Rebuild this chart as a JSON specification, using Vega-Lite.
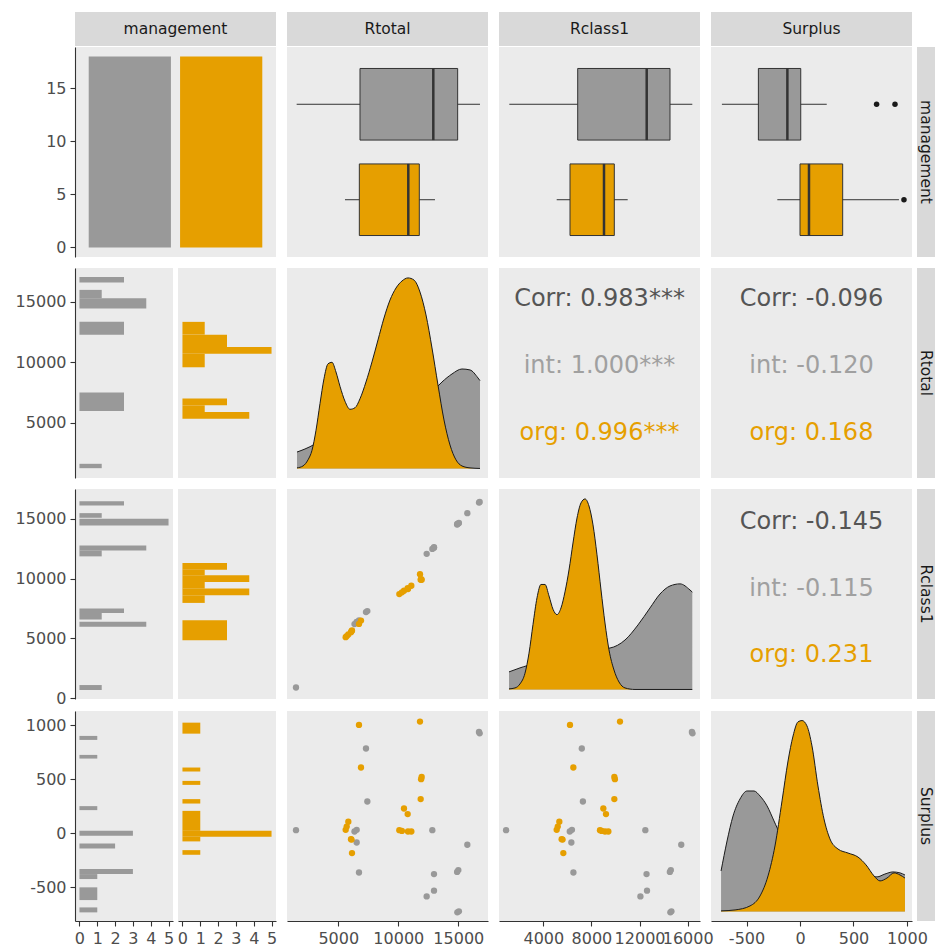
{
  "$schema": "https://vega.github.io/schema/vega-lite/v6.json",
  "padding": {"left": 15, "top": 12, "right": 0, "bottom": 0},
  "background": "#FFFFFF",
  "config": {
    "view": {"stroke": null},
    "axis": {"labelFont": "DejaVu Sans", "labelFontSize": 16, "labelColor": "#4D4D4D", "domainColor": "#333333", "domainWidth": 1.1, "tickColor": "#333333", "tickWidth": 1.1, "tickSize": 5, "labelPadding": 4, "grid": false, "labelOverlap": false, "labelFlush": false},
    "text": {"font": "DejaVu Sans"}
  },
  "datasets": {
    "mgmt": [{"management": "int", "n": 18}, {"management": "org", "n": 18}],
    "box": [
      {"variable": "Rtotal", "management": "int", "lower": 1530, "q1": 6808, "median": 12917, "q3": 14947, "upper": 16808},
      {"variable": "Rtotal", "management": "org", "lower": 5558, "q1": 6753, "median": 10833, "q3": 11750, "upper": 13058},
      {"variable": "Rclass1", "management": "int", "lower": 1172, "q1": 6858, "median": 12594, "q3": 14531, "upper": 16384},
      {"variable": "Rclass1", "management": "org", "lower": 5112, "q1": 6218, "median": 9044, "q3": 9900, "upper": 11014},
      {"variable": "Surplus", "management": "int", "lower": -730, "q1": -389, "median": -118, "q3": 7, "upper": 250},
      {"variable": "Surplus", "management": "org", "lower": -212, "q1": 0, "median": 84, "q3": 399, "upper": 925}
    ],
    "outl": [
      {"variable": "Surplus", "management": "int", "value": 716},
      {"variable": "Surplus", "management": "int", "value": 888},
      {"variable": "Surplus", "management": "org", "value": 972}
    ],
    "corr": [
      {"pair": "Rtotal-Rclass1", "line": "Corr", "label": "Corr: 0.983***"},
      {"pair": "Rtotal-Rclass1", "line": "int", "label": "int: 1.000***"},
      {"pair": "Rtotal-Rclass1", "line": "org", "label": "org: 0.996***"},
      {"pair": "Rtotal-Surplus", "line": "Corr", "label": "Corr: -0.096"},
      {"pair": "Rtotal-Surplus", "line": "int", "label": "int: -0.120"},
      {"pair": "Rtotal-Surplus", "line": "org", "label": "org: 0.168"},
      {"pair": "Rclass1-Surplus", "line": "Corr", "label": "Corr: -0.145"},
      {"pair": "Rclass1-Surplus", "line": "int", "label": "int: -0.115"},
      {"pair": "Rclass1-Surplus", "line": "org", "label": "org: 0.231"}
    ],
    "hist": [
      {"variable": "Rtotal", "management": "int", "lo": 16581, "hi": 17025, "count": 2},
      {"variable": "Rtotal", "management": "int", "lo": 15275, "hi": 15969, "count": 1},
      {"variable": "Rtotal", "management": "int", "lo": 14442, "hi": 15275, "count": 3},
      {"variable": "Rtotal", "management": "int", "lo": 12275, "hi": 13330, "count": 2},
      {"variable": "Rtotal", "management": "int", "lo": 5969, "hi": 7497, "count": 2},
      {"variable": "Rtotal", "management": "int", "lo": 1253, "hi": 1614, "count": 1},
      {"variable": "Rtotal", "management": "org", "lo": 12275, "hi": 13330, "count": 1},
      {"variable": "Rtotal", "management": "org", "lo": 11247, "hi": 12275, "count": 2},
      {"variable": "Rtotal", "management": "org", "lo": 10692, "hi": 11247, "count": 4},
      {"variable": "Rtotal", "management": "org", "lo": 9581, "hi": 10692, "count": 1},
      {"variable": "Rtotal", "management": "org", "lo": 6442, "hi": 6997, "count": 2},
      {"variable": "Rtotal", "management": "org", "lo": 5886, "hi": 6442, "count": 1},
      {"variable": "Rtotal", "management": "org", "lo": 5331, "hi": 5886, "count": 3},
      {"variable": "Rclass1", "management": "int", "lo": 16108, "hi": 16469, "count": 2},
      {"variable": "Rclass1", "management": "int", "lo": 15081, "hi": 15469, "count": 1},
      {"variable": "Rclass1", "management": "int", "lo": 14442, "hi": 14997, "count": 4},
      {"variable": "Rclass1", "management": "int", "lo": 12358, "hi": 12775, "count": 3},
      {"variable": "Rclass1", "management": "int", "lo": 11858, "hi": 12358, "count": 1},
      {"variable": "Rclass1", "management": "int", "lo": 7136, "hi": 7497, "count": 2},
      {"variable": "Rclass1", "management": "int", "lo": 6581, "hi": 7136, "count": 1},
      {"variable": "Rclass1", "management": "int", "lo": 5969, "hi": 6386, "count": 3},
      {"variable": "Rclass1", "management": "int", "lo": 692, "hi": 1108, "count": 1},
      {"variable": "Rclass1", "management": "org", "lo": 10747, "hi": 11303, "count": 2},
      {"variable": "Rclass1", "management": "org", "lo": 10275, "hi": 10747, "count": 1},
      {"variable": "Rclass1", "management": "org", "lo": 9719, "hi": 10275, "count": 3},
      {"variable": "Rclass1", "management": "org", "lo": 9164, "hi": 9719, "count": 1},
      {"variable": "Rclass1", "management": "org", "lo": 8608, "hi": 9164, "count": 3},
      {"variable": "Rclass1", "management": "org", "lo": 7969, "hi": 8608, "count": 1},
      {"variable": "Rclass1", "management": "org", "lo": 4858, "hi": 6525, "count": 2},
      {"variable": "Surplus", "management": "int", "lo": 864, "hi": 901, "count": 1},
      {"variable": "Surplus", "management": "int", "lo": 691, "hi": 725, "count": 1},
      {"variable": "Surplus", "management": "int", "lo": 213, "hi": 250, "count": 1},
      {"variable": "Surplus", "management": "int", "lo": -25, "hi": 21, "count": 3},
      {"variable": "Surplus", "management": "int", "lo": -142, "hi": -96, "count": 2},
      {"variable": "Surplus", "management": "int", "lo": -380, "hi": -334, "count": 3},
      {"variable": "Surplus", "management": "int", "lo": -426, "hi": -380, "count": 1},
      {"variable": "Surplus", "management": "int", "lo": -621, "hi": -503, "count": 1},
      {"variable": "Surplus", "management": "int", "lo": -735, "hi": -689, "count": 1},
      {"variable": "Surplus", "management": "org", "lo": 922, "hi": 1024, "count": 1},
      {"variable": "Surplus", "management": "org", "lo": 571, "hi": 608, "count": 1},
      {"variable": "Surplus", "management": "org", "lo": 447, "hi": 484, "count": 1},
      {"variable": "Surplus", "management": "org", "lo": 274, "hi": 315, "count": 1},
      {"variable": "Surplus", "management": "org", "lo": 21, "hi": 206, "count": 1},
      {"variable": "Surplus", "management": "org", "lo": -34, "hi": 21, "count": 5},
      {"variable": "Surplus", "management": "org", "lo": -77, "hi": -34, "count": 1},
      {"variable": "Surplus", "management": "org", "lo": -201, "hi": -158, "count": 1}
    ],
    "dens": [
      {"variable": "Rtotal", "management": "int", "x": 1558, "density": 0.086},
      {"variable": "Rtotal", "management": "int", "x": 2225, "density": 0.102},
      {"variable": "Rtotal", "management": "int", "x": 3058, "density": 0.128},
      {"variable": "Rtotal", "management": "int", "x": 3892, "density": 0.165},
      {"variable": "Rtotal", "management": "int", "x": 4725, "density": 0.2},
      {"variable": "Rtotal", "management": "int", "x": 5558, "density": 0.228},
      {"variable": "Rtotal", "management": "int", "x": 6808, "density": 0.264},
      {"variable": "Rtotal", "management": "int", "x": 8058, "density": 0.264},
      {"variable": "Rtotal", "management": "int", "x": 9308, "density": 0.264},
      {"variable": "Rtotal", "management": "int", "x": 10558, "density": 0.296},
      {"variable": "Rtotal", "management": "int", "x": 11808, "density": 0.348},
      {"variable": "Rtotal", "management": "int", "x": 12808, "density": 0.4},
      {"variable": "Rtotal", "management": "int", "x": 13642, "density": 0.453},
      {"variable": "Rtotal", "management": "int", "x": 14475, "density": 0.495},
      {"variable": "Rtotal", "management": "int", "x": 15308, "density": 0.521},
      {"variable": "Rtotal", "management": "int", "x": 15975, "density": 0.516},
      {"variable": "Rtotal", "management": "int", "x": 16642, "density": 0.474},
      {"variable": "Rtotal", "management": "int", "x": 16808, "density": 0.46},
      {"variable": "Rtotal", "management": "org", "x": 1558, "density": 0.003},
      {"variable": "Rtotal", "management": "org", "x": 2058, "density": 0.013},
      {"variable": "Rtotal", "management": "org", "x": 2475, "density": 0.045},
      {"variable": "Rtotal", "management": "org", "x": 2808, "density": 0.095},
      {"variable": "Rtotal", "management": "org", "x": 3142, "density": 0.2},
      {"variable": "Rtotal", "management": "org", "x": 3475, "density": 0.34},
      {"variable": "Rtotal", "management": "org", "x": 3808, "density": 0.47},
      {"variable": "Rtotal", "management": "org", "x": 4142, "density": 0.548},
      {"variable": "Rtotal", "management": "org", "x": 4475, "density": 0.556},
      {"variable": "Rtotal", "management": "org", "x": 4808, "density": 0.505},
      {"variable": "Rtotal", "management": "org", "x": 5142, "density": 0.43},
      {"variable": "Rtotal", "management": "org", "x": 5558, "density": 0.352},
      {"variable": "Rtotal", "management": "org", "x": 5975, "density": 0.31},
      {"variable": "Rtotal", "management": "org", "x": 6392, "density": 0.318},
      {"variable": "Rtotal", "management": "org", "x": 6808, "density": 0.365},
      {"variable": "Rtotal", "management": "org", "x": 7308, "density": 0.453},
      {"variable": "Rtotal", "management": "org", "x": 7808, "density": 0.558},
      {"variable": "Rtotal", "management": "org", "x": 8308, "density": 0.673},
      {"variable": "Rtotal", "management": "org", "x": 8808, "density": 0.788},
      {"variable": "Rtotal", "management": "org", "x": 9308, "density": 0.882},
      {"variable": "Rtotal", "management": "org", "x": 9808, "density": 0.945},
      {"variable": "Rtotal", "management": "org", "x": 10308, "density": 0.982},
      {"variable": "Rtotal", "management": "org", "x": 10808, "density": 0.998},
      {"variable": "Rtotal", "management": "org", "x": 11308, "density": 0.987},
      {"variable": "Rtotal", "management": "org", "x": 11808, "density": 0.924},
      {"variable": "Rtotal", "management": "org", "x": 12308, "density": 0.804},
      {"variable": "Rtotal", "management": "org", "x": 12808, "density": 0.631},
      {"variable": "Rtotal", "management": "org", "x": 13308, "density": 0.437},
      {"variable": "Rtotal", "management": "org", "x": 13808, "density": 0.254},
      {"variable": "Rtotal", "management": "org", "x": 14308, "density": 0.123},
      {"variable": "Rtotal", "management": "org", "x": 14808, "density": 0.045},
      {"variable": "Rtotal", "management": "org", "x": 15308, "density": 0.013},
      {"variable": "Rtotal", "management": "org", "x": 15975, "density": 0.003},
      {"variable": "Rtotal", "management": "org", "x": 16808, "density": 0.0},
      {"variable": "Rclass1", "management": "int", "x": 1147, "density": 0.092},
      {"variable": "Rclass1", "management": "int", "x": 2062, "density": 0.113},
      {"variable": "Rclass1", "management": "int", "x": 3308, "density": 0.139},
      {"variable": "Rclass1", "management": "int", "x": 4555, "density": 0.181},
      {"variable": "Rclass1", "management": "int", "x": 6218, "density": 0.207},
      {"variable": "Rclass1", "management": "int", "x": 7880, "density": 0.207},
      {"variable": "Rclass1", "management": "int", "x": 9543, "density": 0.217},
      {"variable": "Rclass1", "management": "int", "x": 10790, "density": 0.259},
      {"variable": "Rclass1", "management": "int", "x": 11870, "density": 0.338},
      {"variable": "Rclass1", "management": "int", "x": 12868, "density": 0.427},
      {"variable": "Rclass1", "management": "int", "x": 13700, "density": 0.5},
      {"variable": "Rclass1", "management": "int", "x": 14531, "density": 0.542},
      {"variable": "Rclass1", "management": "int", "x": 15362, "density": 0.553},
      {"variable": "Rclass1", "management": "int", "x": 16193, "density": 0.521},
      {"variable": "Rclass1", "management": "int", "x": 16384, "density": 0.51},
      {"variable": "Rclass1", "management": "org", "x": 1147, "density": 0.003},
      {"variable": "Rclass1", "management": "org", "x": 1646, "density": 0.008},
      {"variable": "Rclass1", "management": "org", "x": 2062, "density": 0.029},
      {"variable": "Rclass1", "management": "org", "x": 2477, "density": 0.085},
      {"variable": "Rclass1", "management": "org", "x": 2810, "density": 0.19},
      {"variable": "Rclass1", "management": "org", "x": 3142, "density": 0.34},
      {"variable": "Rclass1", "management": "org", "x": 3475, "density": 0.48},
      {"variable": "Rclass1", "management": "org", "x": 3807, "density": 0.55},
      {"variable": "Rclass1", "management": "org", "x": 4140, "density": 0.55},
      {"variable": "Rclass1", "management": "org", "x": 4472, "density": 0.49},
      {"variable": "Rclass1", "management": "org", "x": 4805, "density": 0.42},
      {"variable": "Rclass1", "management": "org", "x": 5137, "density": 0.392},
      {"variable": "Rclass1", "management": "org", "x": 5470, "density": 0.427},
      {"variable": "Rclass1", "management": "org", "x": 5802, "density": 0.511},
      {"variable": "Rclass1", "management": "org", "x": 6135, "density": 0.626},
      {"variable": "Rclass1", "management": "org", "x": 6467, "density": 0.767},
      {"variable": "Rclass1", "management": "org", "x": 6800, "density": 0.898},
      {"variable": "Rclass1", "management": "org", "x": 7132, "density": 0.977},
      {"variable": "Rclass1", "management": "org", "x": 7465, "density": 0.998},
      {"variable": "Rclass1", "management": "org", "x": 7797, "density": 0.961},
      {"variable": "Rclass1", "management": "org", "x": 8130, "density": 0.862},
      {"variable": "Rclass1", "management": "org", "x": 8462, "density": 0.705},
      {"variable": "Rclass1", "management": "org", "x": 8795, "density": 0.521},
      {"variable": "Rclass1", "management": "org", "x": 9127, "density": 0.348},
      {"variable": "Rclass1", "management": "org", "x": 9460, "density": 0.207},
      {"variable": "Rclass1", "management": "org", "x": 9875, "density": 0.102},
      {"variable": "Rclass1", "management": "org", "x": 10291, "density": 0.039},
      {"variable": "Rclass1", "management": "org", "x": 10790, "density": 0.008},
      {"variable": "Rclass1", "management": "org", "x": 11621, "density": 0.0},
      {"variable": "Rclass1", "management": "org", "x": 16384, "density": 0.0},
      {"variable": "Surplus", "management": "int", "x": -738, "density": 0.212},
      {"variable": "Surplus", "management": "int", "x": -682, "density": 0.369},
      {"variable": "Surplus", "management": "int", "x": -626, "density": 0.5},
      {"variable": "Surplus", "management": "int", "x": -561, "density": 0.589},
      {"variable": "Surplus", "management": "int", "x": -495, "density": 0.631},
      {"variable": "Surplus", "management": "int", "x": -430, "density": 0.631},
      {"variable": "Surplus", "management": "int", "x": -374, "density": 0.605},
      {"variable": "Surplus", "management": "int", "x": -308, "density": 0.553},
      {"variable": "Surplus", "management": "int", "x": -243, "density": 0.474},
      {"variable": "Surplus", "management": "int", "x": -178, "density": 0.395},
      {"variable": "Surplus", "management": "int", "x": -93, "density": 0.317},
      {"variable": "Surplus", "management": "int", "x": 47, "density": 0.254},
      {"variable": "Surplus", "management": "int", "x": 234, "density": 0.22},
      {"variable": "Surplus", "management": "int", "x": 421, "density": 0.202},
      {"variable": "Surplus", "management": "int", "x": 607, "density": 0.186},
      {"variable": "Surplus", "management": "int", "x": 720, "density": 0.181},
      {"variable": "Surplus", "management": "int", "x": 794, "density": 0.196},
      {"variable": "Surplus", "management": "int", "x": 869, "density": 0.207},
      {"variable": "Surplus", "management": "int", "x": 935, "density": 0.202},
      {"variable": "Surplus", "management": "int", "x": 981, "density": 0.191},
      {"variable": "Surplus", "management": "org", "x": -738, "density": 0.003},
      {"variable": "Surplus", "management": "org", "x": -607, "density": 0.008},
      {"variable": "Surplus", "management": "org", "x": -467, "density": 0.029},
      {"variable": "Surplus", "management": "org", "x": -374, "density": 0.081},
      {"variable": "Surplus", "management": "org", "x": -299, "density": 0.186},
      {"variable": "Surplus", "management": "org", "x": -234, "density": 0.343},
      {"variable": "Surplus", "management": "org", "x": -168, "density": 0.579},
      {"variable": "Surplus", "management": "org", "x": -112, "density": 0.788},
      {"variable": "Surplus", "management": "org", "x": -65, "density": 0.919},
      {"variable": "Surplus", "management": "org", "x": -19, "density": 0.993},
      {"variable": "Surplus", "management": "org", "x": 19, "density": 1.0},
      {"variable": "Surplus", "management": "org", "x": 65, "density": 0.972},
      {"variable": "Surplus", "management": "org", "x": 112, "density": 0.867},
      {"variable": "Surplus", "management": "org", "x": 168, "density": 0.657},
      {"variable": "Surplus", "management": "org", "x": 224, "density": 0.485},
      {"variable": "Surplus", "management": "org", "x": 280, "density": 0.38},
      {"variable": "Surplus", "management": "org", "x": 355, "density": 0.327},
      {"variable": "Surplus", "management": "org", "x": 449, "density": 0.306},
      {"variable": "Surplus", "management": "org", "x": 542, "density": 0.285},
      {"variable": "Surplus", "management": "org", "x": 617, "density": 0.244},
      {"variable": "Surplus", "management": "org", "x": 692, "density": 0.186},
      {"variable": "Surplus", "management": "org", "x": 748, "density": 0.16},
      {"variable": "Surplus", "management": "org", "x": 813, "density": 0.175},
      {"variable": "Surplus", "management": "org", "x": 879, "density": 0.202},
      {"variable": "Surplus", "management": "org", "x": 935, "density": 0.191},
      {"variable": "Surplus", "management": "org", "x": 981, "density": 0.175}
    ],
    "pts": [
      {"management": "int", "Rtotal": 16725, "Rclass1": 16350, "Surplus": 938},
      {"management": "int", "Rtotal": 7308, "Rclass1": 7200, "Surplus": 784},
      {"management": "int", "Rtotal": 7419, "Rclass1": 7290, "Surplus": 293},
      {"management": "int", "Rtotal": 1475, "Rclass1": 905, "Surplus": 27},
      {"management": "int", "Rtotal": 12836, "Rclass1": 12480, "Surplus": 27},
      {"management": "int", "Rtotal": 15753, "Rclass1": 15464, "Surplus": -108},
      {"management": "int", "Rtotal": 15003, "Rclass1": 14600, "Surplus": -343},
      {"management": "int", "Rtotal": 12975, "Rclass1": 12580, "Surplus": -380},
      {"management": "int", "Rtotal": 12975, "Rclass1": 12620, "Surplus": -534},
      {"management": "int", "Rtotal": 12364, "Rclass1": 12070, "Surplus": -587},
      {"management": "int", "Rtotal": 14919, "Rclass1": 14560, "Surplus": -735},
      {"management": "int", "Rtotal": 6725, "Rclass1": 6500, "Surplus": -365},
      {"management": "int", "Rtotal": 6531, "Rclass1": 6380, "Surplus": 30},
      {"management": "int", "Rtotal": 6531, "Rclass1": 6330, "Surplus": -87},
      {"management": "int", "Rtotal": 16780, "Rclass1": 16400, "Surplus": 925},
      {"management": "int", "Rtotal": 14900, "Rclass1": 14520, "Surplus": -360},
      {"management": "int", "Rtotal": 6350, "Rclass1": 6200, "Surplus": 15},
      {"management": "int", "Rtotal": 15050, "Rclass1": 14650, "Surplus": -725},
      {"management": "org", "Rtotal": 6725, "Rclass1": 6218, "Surplus": 1003},
      {"management": "org", "Rtotal": 11808, "Rclass1": 10374, "Surplus": 1034},
      {"management": "org", "Rtotal": 6892, "Rclass1": 6495, "Surplus": 608},
      {"management": "org", "Rtotal": 11947, "Rclass1": 9903, "Surplus": 521},
      {"management": "org", "Rtotal": 11864, "Rclass1": 9903, "Surplus": 315},
      {"management": "org", "Rtotal": 10475, "Rclass1": 8988, "Surplus": 228},
      {"management": "org", "Rtotal": 10781, "Rclass1": 9210, "Surplus": 176},
      {"management": "org", "Rtotal": 10086, "Rclass1": 8710, "Surplus": 27},
      {"management": "org", "Rtotal": 10808, "Rclass1": 9127, "Surplus": 15},
      {"management": "org", "Rtotal": 11086, "Rclass1": 9405, "Surplus": 15},
      {"management": "org", "Rtotal": 5836, "Rclass1": 5331, "Surplus": 105},
      {"management": "org", "Rtotal": 5614, "Rclass1": 5110, "Surplus": 30},
      {"management": "org", "Rtotal": 6058, "Rclass1": 5525, "Surplus": -56},
      {"management": "org", "Rtotal": 6142, "Rclass1": 5663, "Surplus": -185},
      {"management": "org", "Rtotal": 11900, "Rclass1": 9950, "Surplus": 500},
      {"management": "org", "Rtotal": 10300, "Rclass1": 8850, "Surplus": 20},
      {"management": "org", "Rtotal": 5700, "Rclass1": 5200, "Surplus": 60},
      {"management": "org", "Rtotal": 6100, "Rclass1": 5600, "Surplus": -60}
    ]
  },
  "spacing": 11,
  "resolve": {"scale": {"x": "independent", "y": "independent", "color": "independent"}},
  "vconcat": [
    {
      "spacing": 1,
      "resolve": {"scale": {"x": "independent", "y": "independent", "color": "independent"}},
      "vconcat": [
        {
          "spacing": 5, "bounds": "flush",
          "resolve": {"scale": {"x": "independent", "y": "independent", "color": "independent"}},
          "hconcat": [
            {"width": 201, "height": 34, "view": {"fill": "#D9D9D9", "stroke": null}, "data": {"values": [{"label": "management"}]}, "mark": {"type": "text", "font": "DejaVu Sans", "fontSize": 15.5, "color": "#1A1A1A"}, "encoding": {"text": {"field": "label"}}},
            {"width": 1, "height": 1, "data": {"values": []}, "mark": "point", "encoding": {}},
            {"width": 201, "height": 34, "view": {"fill": "#D9D9D9", "stroke": null}, "data": {"values": [{"label": "Rtotal"}]}, "mark": {"type": "text", "font": "DejaVu Sans", "fontSize": 15.5, "color": "#1A1A1A"}, "encoding": {"text": {"field": "label"}}},
            {"width": 1, "height": 1, "data": {"values": []}, "mark": "point", "encoding": {}},
            {"width": 201, "height": 34, "view": {"fill": "#D9D9D9", "stroke": null}, "data": {"values": [{"label": "Rclass1"}]}, "mark": {"type": "text", "font": "DejaVu Sans", "fontSize": 15.5, "color": "#1A1A1A"}, "encoding": {"text": {"field": "label"}}},
            {"width": 1, "height": 1, "data": {"values": []}, "mark": "point", "encoding": {}},
            {"width": 201, "height": 34, "view": {"fill": "#D9D9D9", "stroke": null}, "data": {"values": [{"label": "Surplus"}]}, "mark": {"type": "text", "font": "DejaVu Sans", "fontSize": 15.5, "color": "#1A1A1A"}, "encoding": {"text": {"field": "label"}}}
          ]
        },
        {
          "spacing": 5, "bounds": "flush",
          "resolve": {"scale": {"x": "independent", "y": "independent", "color": "independent"}},
          "hconcat": [
            {
              "width": 201, "height": 210, "view": {"fill": "#EBEBEB", "stroke": null},
              "data": {"name": "mgmt"},
              "mark": {"type": "bar"},
              "encoding": {
                "x": {"field": "management", "type": "nominal", "scale": {"domain": ["int", "org"], "paddingInner": 0.1, "paddingOuter": 0.15}, "axis": null},
                "y": {"field": "n", "type": "quantitative", "scale": {"domain": [-0.9, 18.9], "nice": false, "zero": false}, "axis": {"title": null, "values": [0, 5, 10, 15], "labelExpr": "'' + datum.value"}},
                "y2": {"datum": 0},
                "color": {"field": "management", "type": "nominal", "scale": {"domain": ["int", "org"], "range": ["#999999", "#E69F00"]}, "legend": null}
              }
            },
            {"width": 1, "height": 1, "data": {"values": []}, "mark": "point", "encoding": {}},
            {
              "width": 201, "height": 210, "view": {"fill": "#EBEBEB", "stroke": null},
              "layer": [
                {"data": {"name": "box"}, "transform": [{"filter": "datum.variable === 'Rtotal'"}], "mark": {"type": "rule", "color": "#333333", "strokeWidth": 1},
                 "encoding": {"x": {"field": "lower", "type": "quantitative", "scale": {"domain": [725, 17475], "nice": false, "zero": false}, "axis": null}, "x2": {"field": "upper"}, "y": {"field": "management", "type": "nominal", "scale": {"domain": ["int", "org"], "paddingInner": 0.25, "paddingOuter": 0.225}, "axis": null}}},
                {"data": {"name": "box"}, "transform": [{"filter": "datum.variable === 'Rtotal'"}], "mark": {"type": "bar", "stroke": "#333333", "strokeWidth": 1},
                 "encoding": {"x": {"field": "q1", "type": "quantitative", "scale": {"domain": [725, 17475], "nice": false, "zero": false}, "axis": null}, "x2": {"field": "q3"}, "y": {"field": "management", "type": "nominal", "scale": {"domain": ["int", "org"], "paddingInner": 0.25, "paddingOuter": 0.225}, "axis": null}, "color": {"field": "management", "type": "nominal", "scale": {"domain": ["int", "org"], "range": ["#999999", "#E69F00"]}, "legend": null}}},
                {"data": {"name": "box"}, "transform": [{"filter": "datum.variable === 'Rtotal'"}], "mark": {"type": "tick", "color": "#333333", "thickness": 2.5, "size": 71.6, "opacity": 1},
                 "encoding": {"x": {"field": "median", "type": "quantitative", "scale": {"domain": [725, 17475], "nice": false, "zero": false}, "axis": null}, "y": {"field": "management", "type": "nominal", "scale": {"domain": ["int", "org"], "paddingInner": 0.25, "paddingOuter": 0.225}, "axis": null}}}
              ]
            },
            {"width": 1, "height": 1, "data": {"values": []}, "mark": "point", "encoding": {}},
            {
              "width": 201, "height": 210, "view": {"fill": "#EBEBEB", "stroke": null},
              "layer": [
                {"data": {"name": "box"}, "transform": [{"filter": "datum.variable === 'Rclass1'"}], "mark": {"type": "rule", "color": "#333333", "strokeWidth": 1},
                 "encoding": {"x": {"field": "lower", "type": "quantitative", "scale": {"domain": [316, 17024], "nice": false, "zero": false}, "axis": null}, "x2": {"field": "upper"}, "y": {"field": "management", "type": "nominal", "scale": {"domain": ["int", "org"], "paddingInner": 0.25, "paddingOuter": 0.225}, "axis": null}}},
                {"data": {"name": "box"}, "transform": [{"filter": "datum.variable === 'Rclass1'"}], "mark": {"type": "bar", "stroke": "#333333", "strokeWidth": 1},
                 "encoding": {"x": {"field": "q1", "type": "quantitative", "scale": {"domain": [316, 17024], "nice": false, "zero": false}, "axis": null}, "x2": {"field": "q3"}, "y": {"field": "management", "type": "nominal", "scale": {"domain": ["int", "org"], "paddingInner": 0.25, "paddingOuter": 0.225}, "axis": null}, "color": {"field": "management", "type": "nominal", "scale": {"domain": ["int", "org"], "range": ["#999999", "#E69F00"]}, "legend": null}}},
                {"data": {"name": "box"}, "transform": [{"filter": "datum.variable === 'Rclass1'"}], "mark": {"type": "tick", "color": "#333333", "thickness": 2.5, "size": 71.6, "opacity": 1},
                 "encoding": {"x": {"field": "median", "type": "quantitative", "scale": {"domain": [316, 17024], "nice": false, "zero": false}, "axis": null}, "y": {"field": "management", "type": "nominal", "scale": {"domain": ["int", "org"], "paddingInner": 0.25, "paddingOuter": 0.225}, "axis": null}}}
              ]
            },
            {"width": 1, "height": 1, "data": {"values": []}, "mark": "point", "encoding": {}},
            {
              "width": 201, "height": 210, "view": {"fill": "#EBEBEB", "stroke": null},
              "layer": [
                {"data": {"name": "box"}, "transform": [{"filter": "datum.variable === 'Surplus'"}], "mark": {"type": "rule", "color": "#333333", "strokeWidth": 1},
                 "encoding": {"x": {"field": "lower", "type": "quantitative", "scale": {"domain": [-832, 1047], "nice": false, "zero": false}, "axis": null}, "x2": {"field": "upper"}, "y": {"field": "management", "type": "nominal", "scale": {"domain": ["int", "org"], "paddingInner": 0.25, "paddingOuter": 0.225}, "axis": null}}},
                {"data": {"name": "box"}, "transform": [{"filter": "datum.variable === 'Surplus'"}], "mark": {"type": "bar", "stroke": "#333333", "strokeWidth": 1},
                 "encoding": {"x": {"field": "q1", "type": "quantitative", "scale": {"domain": [-832, 1047], "nice": false, "zero": false}, "axis": null}, "x2": {"field": "q3"}, "y": {"field": "management", "type": "nominal", "scale": {"domain": ["int", "org"], "paddingInner": 0.25, "paddingOuter": 0.225}, "axis": null}, "color": {"field": "management", "type": "nominal", "scale": {"domain": ["int", "org"], "range": ["#999999", "#E69F00"]}, "legend": null}}},
                {"data": {"name": "box"}, "transform": [{"filter": "datum.variable === 'Surplus'"}], "mark": {"type": "tick", "color": "#333333", "thickness": 2.5, "size": 71.6, "opacity": 1},
                 "encoding": {"x": {"field": "median", "type": "quantitative", "scale": {"domain": [-832, 1047], "nice": false, "zero": false}, "axis": null}, "y": {"field": "management", "type": "nominal", "scale": {"domain": ["int", "org"], "paddingInner": 0.25, "paddingOuter": 0.225}, "axis": null}}},
                {"data": {"name": "outl"}, "transform": [{"filter": "datum.variable === 'Surplus'"}], "mark": {"type": "point", "filled": true, "color": "#1A1A1A", "size": 30, "opacity": 1},
                 "encoding": {"x": {"field": "value", "type": "quantitative", "scale": {"domain": [-832, 1047], "nice": false, "zero": false}, "axis": null}, "y": {"field": "management", "type": "nominal", "scale": {"domain": ["int", "org"], "paddingInner": 0.25, "paddingOuter": 0.225}, "axis": null}}}
              ]
            },
            {"width": 18, "height": 210, "view": {"fill": "#D9D9D9", "stroke": null}, "data": {"values": [{"label": "management"}]}, "mark": {"type": "text", "font": "DejaVu Sans", "fontSize": 15.5, "color": "#1A1A1A", "angle": 90}, "encoding": {"text": {"field": "label"}}}
          ]
        }
      ]
    },
    {
      "spacing": 5, "bounds": "flush",
      "resolve": {"scale": {"x": "independent", "y": "independent", "color": "independent"}},
      "hconcat": [
        {"width": 98, "height": 210, "view": {"fill": "#EBEBEB", "stroke": null}, "data": {"name": "hist"}, "transform": [{"filter": "datum.variable === 'Rtotal' && datum.management === 'int'"}],
         "mark": {"type": "rect", "color": "#999999"},
         "encoding": {"x": {"field": "count", "type": "quantitative", "scale": {"domain": [-0.2, 4.2], "nice": false, "zero": false}, "axis": null}, "x2": {"datum": 0},
                      "y": {"field": "lo", "type": "quantitative", "scale": {"domain": [442, 17775], "nice": false, "zero": false}, "axis": {"title": null, "values": [5000, 10000, 15000], "labelExpr": "'' + datum.value"}}, "y2": {"field": "hi"}}},
        {"width": 98, "height": 210, "view": {"fill": "#EBEBEB", "stroke": null}, "data": {"name": "hist"}, "transform": [{"filter": "datum.variable === 'Rtotal' && datum.management === 'org'"}],
         "mark": {"type": "rect", "color": "#E69F00"},
         "encoding": {"x": {"field": "count", "type": "quantitative", "scale": {"domain": [-0.2, 4.2], "nice": false, "zero": false}, "axis": null}, "x2": {"datum": 0},
                      "y": {"field": "lo", "type": "quantitative", "scale": {"domain": [442, 17775], "nice": false, "zero": false}, "axis": null}, "y2": {"field": "hi"}}},
        {"width": 1, "height": 1, "data": {"values": []}, "mark": "point", "encoding": {}},
        {"width": 201, "height": 210, "view": {"fill": "#EBEBEB", "stroke": null}, "data": {"name": "dens"},
         "layer": [
           {"transform": [{"filter": "datum.variable === 'Rtotal' && datum.management === 'int'"}], "mark": {"type": "area", "color": "#999999", "interpolate": "monotone"},
            "encoding": {"x": {"field": "x", "type": "quantitative", "scale": {"domain": [725, 17475], "nice": false, "zero": false}, "axis": null}, "y": {"field": "density", "type": "quantitative", "scale": {"domain": [-0.05, 1.05], "nice": false, "zero": false}, "axis": null}, "y2": {"datum": 0}}},
           {"transform": [{"filter": "datum.variable === 'Rtotal' && datum.management === 'int'"}], "mark": {"type": "line", "color": "#1A1A1A", "strokeWidth": 1, "interpolate": "monotone"},
            "encoding": {"x": {"field": "x", "type": "quantitative", "scale": {"domain": [725, 17475], "nice": false, "zero": false}, "axis": null}, "y": {"field": "density", "type": "quantitative", "scale": {"domain": [-0.05, 1.05], "nice": false, "zero": false}, "axis": null}}},
           {"transform": [{"filter": "datum.variable === 'Rtotal' && datum.management === 'org'"}], "mark": {"type": "area", "color": "#E69F00", "interpolate": "monotone"},
            "encoding": {"x": {"field": "x", "type": "quantitative", "scale": {"domain": [725, 17475], "nice": false, "zero": false}, "axis": null}, "y": {"field": "density", "type": "quantitative", "scale": {"domain": [-0.05, 1.05], "nice": false, "zero": false}, "axis": null}, "y2": {"datum": 0}}},
           {"transform": [{"filter": "datum.variable === 'Rtotal' && datum.management === 'org'"}], "mark": {"type": "line", "color": "#1A1A1A", "strokeWidth": 1, "interpolate": "monotone"},
            "encoding": {"x": {"field": "x", "type": "quantitative", "scale": {"domain": [725, 17475], "nice": false, "zero": false}, "axis": null}, "y": {"field": "density", "type": "quantitative", "scale": {"domain": [-0.05, 1.05], "nice": false, "zero": false}, "axis": null}}}
         ]},
        {"width": 1, "height": 1, "data": {"values": []}, "mark": "point", "encoding": {}},
        {"width": 201, "height": 210, "view": {"fill": "#EBEBEB", "stroke": null}, "data": {"name": "corr"}, "transform": [{"filter": "datum.pair === 'Rtotal-Rclass1'"}],
         "mark": {"type": "text", "font": "DejaVu Sans", "fontSize": 24},
         "encoding": {"y": {"field": "line", "type": "nominal", "scale": {"type": "point", "domain": ["Corr", "int", "org"], "range": [31, 165], "padding": 0}, "axis": null}, "text": {"field": "label"},
                      "color": {"field": "line", "type": "nominal", "scale": {"domain": ["Corr", "int", "org"], "range": ["#555555", "#A0A0A0", "#E69F00"]}, "legend": null}}},
        {"width": 1, "height": 1, "data": {"values": []}, "mark": "point", "encoding": {}},
        {"width": 201, "height": 210, "view": {"fill": "#EBEBEB", "stroke": null}, "data": {"name": "corr"}, "transform": [{"filter": "datum.pair === 'Rtotal-Surplus'"}],
         "mark": {"type": "text", "font": "DejaVu Sans", "fontSize": 24},
         "encoding": {"y": {"field": "line", "type": "nominal", "scale": {"type": "point", "domain": ["Corr", "int", "org"], "range": [31, 165], "padding": 0}, "axis": null}, "text": {"field": "label"},
                      "color": {"field": "line", "type": "nominal", "scale": {"domain": ["Corr", "int", "org"], "range": ["#555555", "#A0A0A0", "#E69F00"]}, "legend": null}}},
        {"width": 18, "height": 210, "view": {"fill": "#D9D9D9", "stroke": null}, "data": {"values": [{"label": "Rtotal"}]}, "mark": {"type": "text", "font": "DejaVu Sans", "fontSize": 15.5, "color": "#1A1A1A", "angle": 90}, "encoding": {"text": {"field": "label"}}}
      ]
    },
    {
      "spacing": 4,
      "resolve": {"scale": {"x": "independent", "y": "independent", "color": "independent"}},
      "vconcat": [
        {
          "spacing": 5, "bounds": "flush",
          "resolve": {"scale": {"x": "independent", "y": "independent", "color": "independent"}},
          "hconcat": [
            {"width": 98, "height": 210, "view": {"fill": "#EBEBEB", "stroke": null}, "data": {"name": "hist"}, "transform": [{"filter": "datum.variable === 'Rclass1' && datum.management === 'int'"}],
             "mark": {"type": "rect", "color": "#999999"},
             "encoding": {"x": {"field": "count", "type": "quantitative", "scale": {"domain": [-0.2, 4.2], "nice": false, "zero": false}, "axis": null}, "x2": {"datum": 0},
                          "y": {"field": "lo", "type": "quantitative", "scale": {"domain": [-58, 17486], "nice": false, "zero": false}, "axis": {"title": null, "values": [0, 5000, 10000, 15000], "labelExpr": "'' + datum.value"}}, "y2": {"field": "hi"}}},
            {"width": 98, "height": 210, "view": {"fill": "#EBEBEB", "stroke": null}, "data": {"name": "hist"}, "transform": [{"filter": "datum.variable === 'Rclass1' && datum.management === 'org'"}],
             "mark": {"type": "rect", "color": "#E69F00"},
             "encoding": {"x": {"field": "count", "type": "quantitative", "scale": {"domain": [-0.2, 4.2], "nice": false, "zero": false}, "axis": null}, "x2": {"datum": 0},
                          "y": {"field": "lo", "type": "quantitative", "scale": {"domain": [-58, 17486], "nice": false, "zero": false}, "axis": null}, "y2": {"field": "hi"}}},
            {"width": 1, "height": 1, "data": {"values": []}, "mark": "point", "encoding": {}},
            {"width": 201, "height": 210, "view": {"fill": "#EBEBEB", "stroke": null}, "data": {"name": "pts"},
             "mark": {"type": "point", "filled": true, "size": 40, "opacity": 1},
             "encoding": {"x": {"field": "Rtotal", "type": "quantitative", "scale": {"domain": [725, 17475], "nice": false, "zero": false}, "axis": null},
                          "y": {"field": "Rclass1", "type": "quantitative", "scale": {"domain": [-58, 17486], "nice": false, "zero": false}, "axis": null},
                          "color": {"field": "management", "type": "nominal", "scale": {"domain": ["int", "org"], "range": ["#999999", "#E69F00"]}, "legend": null}}},
            {"width": 1, "height": 1, "data": {"values": []}, "mark": "point", "encoding": {}},
            {"width": 201, "height": 210, "view": {"fill": "#EBEBEB", "stroke": null}, "data": {"name": "dens"},
             "layer": [
               {"transform": [{"filter": "datum.variable === 'Rclass1' && datum.management === 'int'"}], "mark": {"type": "area", "color": "#999999", "interpolate": "monotone"},
                "encoding": {"x": {"field": "x", "type": "quantitative", "scale": {"domain": [316, 17024], "nice": false, "zero": false}, "axis": null}, "y": {"field": "density", "type": "quantitative", "scale": {"domain": [-0.05, 1.05], "nice": false, "zero": false}, "axis": null}, "y2": {"datum": 0}}},
               {"transform": [{"filter": "datum.variable === 'Rclass1' && datum.management === 'int'"}], "mark": {"type": "line", "color": "#1A1A1A", "strokeWidth": 1, "interpolate": "monotone"},
                "encoding": {"x": {"field": "x", "type": "quantitative", "scale": {"domain": [316, 17024], "nice": false, "zero": false}, "axis": null}, "y": {"field": "density", "type": "quantitative", "scale": {"domain": [-0.05, 1.05], "nice": false, "zero": false}, "axis": null}}},
               {"transform": [{"filter": "datum.variable === 'Rclass1' && datum.management === 'org'"}], "mark": {"type": "area", "color": "#E69F00", "interpolate": "monotone"},
                "encoding": {"x": {"field": "x", "type": "quantitative", "scale": {"domain": [316, 17024], "nice": false, "zero": false}, "axis": null}, "y": {"field": "density", "type": "quantitative", "scale": {"domain": [-0.05, 1.05], "nice": false, "zero": false}, "axis": null}, "y2": {"datum": 0}}},
               {"transform": [{"filter": "datum.variable === 'Rclass1' && datum.management === 'org'"}], "mark": {"type": "line", "color": "#1A1A1A", "strokeWidth": 1, "interpolate": "monotone"},
                "encoding": {"x": {"field": "x", "type": "quantitative", "scale": {"domain": [316, 17024], "nice": false, "zero": false}, "axis": null}, "y": {"field": "density", "type": "quantitative", "scale": {"domain": [-0.05, 1.05], "nice": false, "zero": false}, "axis": null}}}
             ]},
            {"width": 1, "height": 1, "data": {"values": []}, "mark": "point", "encoding": {}},
            {"width": 201, "height": 210, "view": {"fill": "#EBEBEB", "stroke": null}, "data": {"name": "corr"}, "transform": [{"filter": "datum.pair === 'Rclass1-Surplus'"}],
             "mark": {"type": "text", "font": "DejaVu Sans", "fontSize": 24},
             "encoding": {"y": {"field": "line", "type": "nominal", "scale": {"type": "point", "domain": ["Corr", "int", "org"], "range": [33, 166], "padding": 0}, "axis": null}, "text": {"field": "label"},
                          "color": {"field": "line", "type": "nominal", "scale": {"domain": ["Corr", "int", "org"], "range": ["#555555", "#A0A0A0", "#E69F00"]}, "legend": null}}},
            {"width": 18, "height": 210, "view": {"fill": "#D9D9D9", "stroke": null}, "data": {"values": [{"label": "Rclass1"}]}, "mark": {"type": "text", "font": "DejaVu Sans", "fontSize": 15.5, "color": "#1A1A1A", "angle": 90}, "encoding": {"text": {"field": "label"}}}
          ]
        },
        {
          "spacing": 5, "bounds": "flush",
          "resolve": {"scale": {"x": "independent", "y": "independent", "color": "independent"}},
          "hconcat": [
            {"width": 98, "height": 210, "view": {"fill": "#EBEBEB", "stroke": null}, "data": {"name": "hist"}, "transform": [{"filter": "datum.variable === 'Surplus' && datum.management === 'int'"}],
             "mark": {"type": "rect", "color": "#999999"},
             "encoding": {"x": {"field": "count", "type": "quantitative", "scale": {"domain": [-0.25, 5.25], "nice": false, "zero": false}, "axis": {"title": null, "values": [0, 1, 2, 3, 4, 5], "labelExpr": "'' + datum.value"}}, "x2": {"datum": 0},
                          "y": {"field": "lo", "type": "quantitative", "scale": {"domain": [-815, 1132], "nice": false, "zero": false}, "axis": {"title": null, "values": [-500, 0, 500, 1000], "labelExpr": "'' + datum.value"}}, "y2": {"field": "hi"}}},
            {"width": 98, "height": 210, "view": {"fill": "#EBEBEB", "stroke": null}, "data": {"name": "hist"}, "transform": [{"filter": "datum.variable === 'Surplus' && datum.management === 'org'"}],
             "mark": {"type": "rect", "color": "#E69F00"},
             "encoding": {"x": {"field": "count", "type": "quantitative", "scale": {"domain": [-0.25, 5.25], "nice": false, "zero": false}, "axis": {"title": null, "values": [0, 1, 2, 3, 4, 5], "labelExpr": "'' + datum.value"}}, "x2": {"datum": 0},
                          "y": {"field": "lo", "type": "quantitative", "scale": {"domain": [-815, 1132], "nice": false, "zero": false}, "axis": null}, "y2": {"field": "hi"}}},
            {"width": 1, "height": 1, "data": {"values": []}, "mark": "point", "encoding": {}},
            {"width": 201, "height": 210, "view": {"fill": "#EBEBEB", "stroke": null}, "data": {"name": "pts"},
             "mark": {"type": "point", "filled": true, "size": 40, "opacity": 1},
             "encoding": {"x": {"field": "Rtotal", "type": "quantitative", "scale": {"domain": [725, 17475], "nice": false, "zero": false}, "axis": {"title": null, "values": [5000, 10000, 15000], "labelExpr": "'' + datum.value"}},
                          "y": {"field": "Surplus", "type": "quantitative", "scale": {"domain": [-815, 1132], "nice": false, "zero": false}, "axis": null},
                          "color": {"field": "management", "type": "nominal", "scale": {"domain": ["int", "org"], "range": ["#999999", "#E69F00"]}, "legend": null}}},
            {"width": 1, "height": 1, "data": {"values": []}, "mark": "point", "encoding": {}},
            {"width": 201, "height": 210, "view": {"fill": "#EBEBEB", "stroke": null}, "data": {"name": "pts"},
             "mark": {"type": "point", "filled": true, "size": 40, "opacity": 1},
             "encoding": {"x": {"field": "Rclass1", "type": "quantitative", "scale": {"domain": [316, 17024], "nice": false, "zero": false}, "axis": {"title": null, "values": [4000, 8000, 12000, 16000], "labelExpr": "'' + datum.value"}},
                          "y": {"field": "Surplus", "type": "quantitative", "scale": {"domain": [-815, 1132], "nice": false, "zero": false}, "axis": null},
                          "color": {"field": "management", "type": "nominal", "scale": {"domain": ["int", "org"], "range": ["#999999", "#E69F00"]}, "legend": null}}},
            {"width": 1, "height": 1, "data": {"values": []}, "mark": "point", "encoding": {}},
            {"width": 201, "height": 210, "view": {"fill": "#EBEBEB", "stroke": null}, "data": {"name": "dens"},
             "layer": [
               {"transform": [{"filter": "datum.variable === 'Surplus' && datum.management === 'int'"}], "mark": {"type": "area", "color": "#999999", "interpolate": "monotone"},
                "encoding": {"x": {"field": "x", "type": "quantitative", "scale": {"domain": [-832, 1047], "nice": false, "zero": false}, "axis": {"title": null, "values": [-500, 0, 500, 1000], "labelExpr": "'' + datum.value"}}, "y": {"field": "density", "type": "quantitative", "scale": {"domain": [-0.05, 1.05], "nice": false, "zero": false}, "axis": null}, "y2": {"datum": 0}}},
               {"transform": [{"filter": "datum.variable === 'Surplus' && datum.management === 'int'"}], "mark": {"type": "line", "color": "#1A1A1A", "strokeWidth": 1, "interpolate": "monotone"},
                "encoding": {"x": {"field": "x", "type": "quantitative", "scale": {"domain": [-832, 1047], "nice": false, "zero": false}}, "y": {"field": "density", "type": "quantitative", "scale": {"domain": [-0.05, 1.05], "nice": false, "zero": false}, "axis": null}}},
               {"transform": [{"filter": "datum.variable === 'Surplus' && datum.management === 'org'"}], "mark": {"type": "area", "color": "#E69F00", "interpolate": "monotone"},
                "encoding": {"x": {"field": "x", "type": "quantitative", "scale": {"domain": [-832, 1047], "nice": false, "zero": false}}, "y": {"field": "density", "type": "quantitative", "scale": {"domain": [-0.05, 1.05], "nice": false, "zero": false}, "axis": null}, "y2": {"datum": 0}}},
               {"transform": [{"filter": "datum.variable === 'Surplus' && datum.management === 'org'"}], "mark": {"type": "line", "color": "#1A1A1A", "strokeWidth": 1, "interpolate": "monotone"},
                "encoding": {"x": {"field": "x", "type": "quantitative", "scale": {"domain": [-832, 1047], "nice": false, "zero": false}}, "y": {"field": "density", "type": "quantitative", "scale": {"domain": [-0.05, 1.05], "nice": false, "zero": false}, "axis": null}}}
             ]},
            {"width": 18, "height": 210, "view": {"fill": "#D9D9D9", "stroke": null}, "data": {"values": [{"label": "Surplus"}]}, "mark": {"type": "text", "font": "DejaVu Sans", "fontSize": 15.5, "color": "#1A1A1A", "angle": 90}, "encoding": {"text": {"field": "label"}}}
          ]
        }
      ]
    }
  ]
}
